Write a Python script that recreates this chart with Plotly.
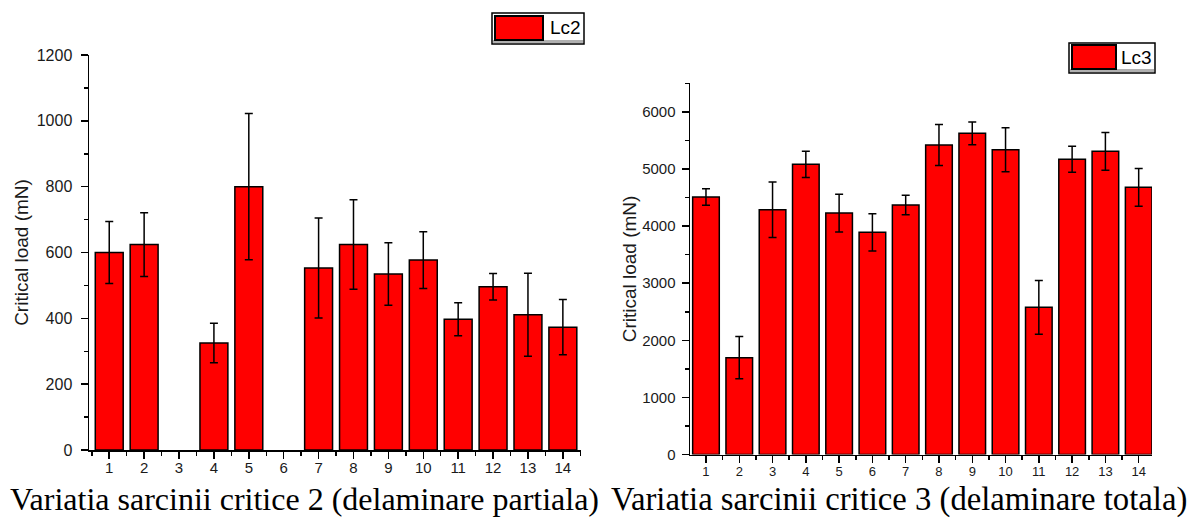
import plotly.graph_objects as go

# ---------------- data ----------------
samples = list(range(1, 15))
tick_labels = [str(s) for s in samples]

lc2 = [600, 624, None, 325, 800, None, 553, 624, 535, 577, 397, 496, 411, 373]
lc2_err = [94, 97, None, 60, 222, None, 152, 136, 95, 86, 50, 40, 126, 84]

lc3 = [4510, 1695, 4287, 5082, 4229, 3891, 4370, 5420, 5625, 5338, 2578, 5170, 5310, 4680]
lc3_err = [145, 370, 484, 230, 330, 327, 170, 360, 200, 385, 470, 228, 330, 330]

series_names = ["Lc2", "Lc3"]
y_title = "Critical load (mN)"
captions = ["Variatia sarcinii critice 2 (delaminare partiala)",
            "Variatia sarcinii critice 3 (delaminare totala)"]

# ---------------- layout helpers ----------------
W, H = 1190, 518
def px(x):
    return x / W
def py(y):
    return 1 - y / H

RED = "#ff0000"
INK = "#1a1a1a"
SANS = "Liberation Sans, Arial, sans-serif"
SERIF = "Liberation Serif, Times New Roman, serif"

fig = go.Figure()

fig.add_trace(go.Bar(
    x=samples, y=lc2, name=series_names[0], width=0.8,
    marker=dict(color=RED, line=dict(color="black", width=1.5)),
    error_y=dict(type="data", array=lc2_err, visible=True, color="black",
                 thickness=1.5, width=4),
    xaxis="x", yaxis="y", showlegend=False,
))
fig.add_trace(go.Bar(
    x=samples, y=lc3, name=series_names[1], width=0.8,
    marker=dict(color=RED, line=dict(color="black", width=1.5)),
    error_y=dict(type="data", array=lc3_err, visible=True, color="black",
                 thickness=1.5, width=4),
    xaxis="x2", yaxis="y2", showlegend=False,
))

def xaxis_style(domain, rng, anchor, size, standoff):
    return dict(
        domain=domain, range=rng, anchor=anchor, automargin=False,
        tickmode="array", tickvals=samples, ticktext=tick_labels,
        ticks="outside", ticklen=7, tickwidth=1.5, tickcolor="black",
        minor=dict(tickmode="array", tickvals=[s + 0.5 for s in [0] + samples],
                   ticks="outside", ticklen=4, tickwidth=1.5, tickcolor="black"),
        showline=True, linecolor="black", linewidth=1.5,
        showgrid=False, zeroline=False,
        tickfont=dict(family=SANS, size=size, color=INK),
        ticklabelstandoff=standoff,
        fixedrange=True,
    )

def yaxis_style(domain, rng, anchor, dtick, minor_dtick, size, lab_off, title_off):
    return dict(
        domain=domain, range=rng, anchor=anchor, automargin=False,
        tick0=0, dtick=dtick,
        ticks="outside", ticklen=7, tickwidth=1.5, tickcolor="black",
        minor=dict(dtick=minor_dtick, tick0=0, ticks="outside", ticklen=4,
                   tickwidth=1.5, tickcolor="black"),
        showline=True, linecolor="black", linewidth=1.5,
        showgrid=False, zeroline=False,
        tickfont=dict(family=SANS, size=size, color=INK),
        ticklabelstandoff=lab_off,
        title=dict(text=y_title, font=dict(family=SANS, size=19, color=INK),
                   standoff=title_off),
        fixedrange=True,
    )

fig.update_layout(
    width=W, height=H,
    margin=dict(l=0, r=0, t=0, b=0, autoexpand=False),
    paper_bgcolor="white", plot_bgcolor="white",
    bargap=0.2,
    xaxis=xaxis_style([px(89), px(581)], [0.42, 14.52], "y", 15, -4),
    yaxis=yaxis_style([py(450), py(55)], [0, 1200], "x", 200, 100, 16, 5, 3),
    xaxis2=xaxis_style([px(690), px(1152)], [0.52, 14.4], "y2", 13, -3),
    yaxis2=yaxis_style([py(454.5), py(83.4)], [0, 6500], "x2", 1000, 500, 15, 3, 0),
)

# ---------------- legend boxes (drawn) ----------------
legends = [
    dict(box=(492, 13, 584, 44), sw=(495, 16, 543, 40), tx=548, name=series_names[0]),
    dict(box=(1069, 43, 1155, 73), sw=(1072, 45, 1116, 69), tx=1119, name=series_names[1]),
]
for lg in legends:
    x0, y0, x1, y1 = lg["box"]
    fig.add_shape(type="rect", xref="paper", yref="paper",
                  x0=px(x0), x1=px(x1), y0=py(y1), y1=py(y0),
                  fillcolor="white", line=dict(color="black", width=1.5))
    fig.add_shape(type="rect", xref="paper", yref="paper",
                  x0=px(x0 + 1), x1=px(x1 - 1), y0=py(y1 - 1), y1=py(y1 - 4),
                  fillcolor="#b0b0b0", line=dict(width=0))
    sx0, sy0, sx1, sy1 = lg["sw"]
    fig.add_shape(type="rect", xref="paper", yref="paper",
                  x0=px(sx0), x1=px(sx1), y0=py(sy1), y1=py(sy0),
                  fillcolor=RED, line=dict(color="black", width=2))
    fig.add_annotation(text=lg["name"], xref="paper", yref="paper",
                       x=px(lg["tx"]), y=py((y0 + y1) / 2 - 1),
                       xanchor="left", yanchor="middle", showarrow=False,
                       font=dict(family=SANS, size=19, color="black"))

# ---------------- captions ----------------
fig.add_annotation(text=captions[0], xref="paper", yref="paper",
                   x=px(304), y=py(499), xanchor="center", yanchor="middle",
                   showarrow=False, font=dict(family=SERIF, size=32, color="black"))
fig.add_annotation(text=captions[1], xref="paper", yref="paper",
                   x=px(899), y=py(499), xanchor="center", yanchor="middle",
                   showarrow=False, font=dict(family=SERIF, size=32.7, color="black"))

fig.write_html("out.html",
               config={"displayModeBar": False, "staticPlot": True},
               post_script="document.body.style.margin='0';document.body.style.overflow='hidden';")
